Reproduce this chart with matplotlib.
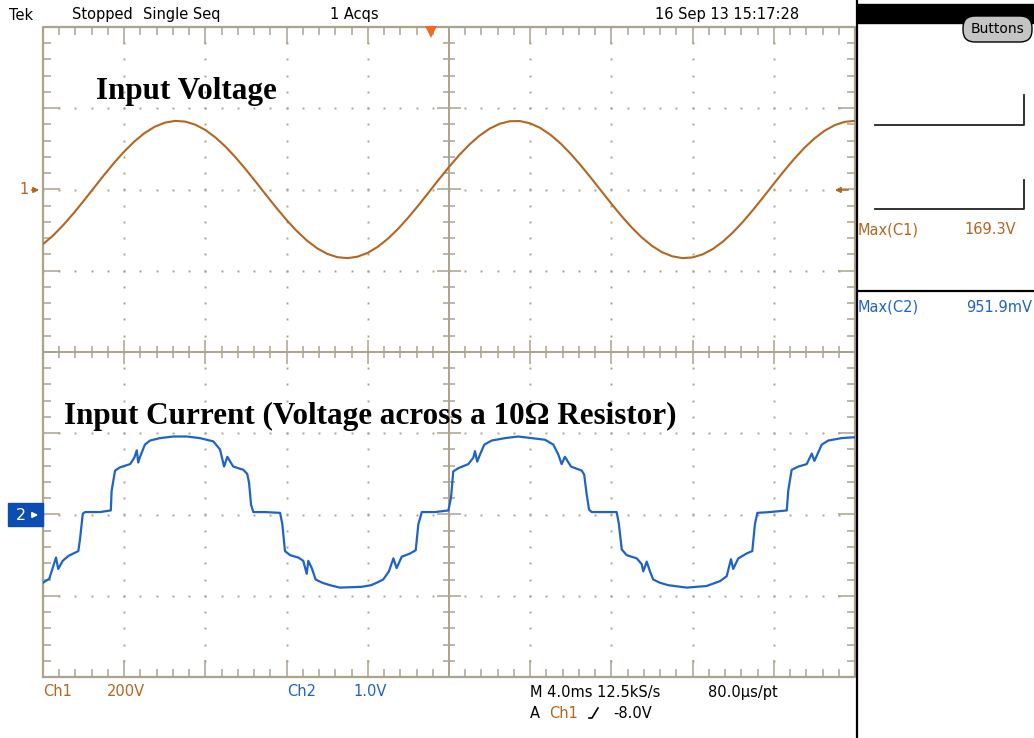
"""Tek scope capture: input voltage and input current."""

import matplotlib
matplotlib.use("Agg")
import matplotlib.pyplot as plt
import matplotlib.transforms as mtransforms
from matplotlib.collections import LineCollection
from matplotlib.patches import Rectangle, FancyBboxPatch
import numpy as np

# ---- data --------------------------------------------------------------------
# Ch1: input voltage (V), one sample every 0.5 ms
v_time_ms = [k / 2 for k in range(-40, 41)]
v_volts = [-134.6, -113.1, -87.5, -58.9, -28.2, 3.5, 35.1, 65.5, 93.5, 118.2,
           138.8, 154.4, 164.5, 168.9, 167.2, 159.6, 146.4, 127.9, 105.0, 78.3,
           48.8, 17.7, -14.1, -45.4, -75.1, -102.2, -125.6, -144.6, -158.4, -166.6,
           -169.0, -165.3, -155.8, -140.8, -120.7, -96.4, -68.7, -38.6, -7.1, 24.7,
           55.6, 84.5, 110.4, 132.4, 149.8, 161.8, 168.1, 168.4, 162.8, 151.4,
           134.6, 113.1, 87.5, 58.9, 28.2, -3.5, -35.1, -65.5, -93.5, -118.2,
           -138.8, -154.4, -164.5, -168.9, -167.2, -159.6, -146.4, -127.9, -105.0, -78.3,
           -48.8, -17.7, 14.1, 45.4, 75.1, 102.2, 125.6, 144.6, 158.4, 166.6,
           169.0]

# Ch2: voltage across the 10 ohm shunt (V)
i_time_ms = [-20.0, -19.69, -19.36, -19.25, -19.03, -18.75, -18.26, -18.18, -18.04, -17.93,
             -17.19, -16.66, -16.62, -16.45, -16.21, -15.71, -15.50, -15.38, -15.31, -15.22,
             -14.98, -14.73, -14.24, -13.58, -12.92, -12.27, -11.61, -11.28, -11.08, -10.92,
             -10.63, -10.13, -9.94, -9.85, -9.75, -9.64, -9.06, -8.32, -8.21, -8.08,
             -7.83, -7.42, -7.18, -7.01, -6.93, -6.76, -6.57, -6.24, -5.86, -5.37,
             -4.30, -3.84, -3.56, -3.24, -2.96, -2.74, -2.58, -2.33, -1.92, -1.64,
             -1.51, -1.34, -0.69, -0.03, 0.10, 0.21, 0.46, 0.95, 1.20, 1.28,
             1.39, 1.53, 1.74, 2.10, 2.76, 3.41, 4.07, 4.73, 5.14, 5.38,
             5.55, 5.71, 6.01, 6.54, 6.66, 6.78, 6.90, 7.03, 8.26, 8.37,
             8.51, 8.75, 9.25, 9.49, 9.57, 9.74, 9.90, 10.06, 10.39, 10.80,
             11.71, 12.69, 13.35, 13.68, 13.89, 14.00, 14.25, 14.66, 14.94, 15.07,
             15.19, 15.81, 16.64, 16.71, 16.88, 17.21, 17.62, 17.87, 18.00, 18.11,
             18.36, 18.68, 19.34, 19.89, 20.0]
i_volts = [-0.84, -0.79, -0.53, -0.67, -0.57, -0.51, -0.45, -0.31, 0.01, 0.03,
           0.03, 0.05, 0.29, 0.54, 0.58, 0.62, 0.70, 0.79, 0.64, 0.71,
           0.86, 0.91, 0.94, 0.96, 0.96, 0.94, 0.90, 0.80, 0.59, 0.71,
           0.59, 0.55, 0.50, 0.39, 0.12, 0.03, 0.03, 0.02, -0.12, -0.45,
           -0.50, -0.53, -0.57, -0.73, -0.57, -0.66, -0.80, -0.84, -0.87, -0.90,
           -0.89, -0.87, -0.84, -0.80, -0.70, -0.54, -0.66, -0.52, -0.48, -0.44,
           -0.12, 0.03, 0.03, 0.05, 0.21, 0.53, 0.57, 0.62, 0.70, 0.78,
           0.65, 0.74, 0.86, 0.91, 0.94, 0.96, 0.94, 0.92, 0.86, 0.74,
           0.62, 0.71, 0.59, 0.54, 0.49, 0.25, 0.06, 0.03, 0.03, -0.12,
           -0.43, -0.50, -0.54, -0.61, -0.70, -0.58, -0.70, -0.80, -0.84, -0.87,
           -0.90, -0.88, -0.82, -0.76, -0.55, -0.67, -0.54, -0.48, -0.45, -0.12,
           0.02, 0.03, 0.05, 0.29, 0.55, 0.59, 0.62, 0.75, 0.66, 0.72,
           0.86, 0.91, 0.94, 0.95, 0.95]

ch1_volts_per_div = 200.0
ch2_volts_per_div = 1.0
ch1_offset_div = 2.0
ch2_offset_div = -2.0
ms_per_div = 4.0
trigger_time_ms = -0.9

# ---- look ---------------------------------------------------------------------
W, H = 1034, 738
GRAT = "#ABA38C"
CH1 = "#B4661F"
CH2 = "#1F63C6"
TRIG = "#F26A1F"
FONT = "DejaVu Sans"
FS = 10.5

fig = plt.figure(figsize=(W / 100, H / 100), dpi=100)
fig.patch.set_facecolor("white")

# graticule axes: x in ms, y in divisions
gl, gr, gt, gb = 43, 855, 27, 677
ax = fig.add_axes([gl / W, 1 - gb / H, (gr - gl) / W, (gb - gt) / H])
ax.set_xlim(-5 * ms_per_div, 5 * ms_per_div)
ax.set_ylim(-4, 4)
ax.set_axis_off()
ax.patch.set_alpha(0)

px_x = ms_per_div / ((gr - gl) / 10)   # ms per pixel
px_y = 1 / ((gb - gt) / 8)             # div per pixel

# dotted division lines
for k in range(-4, 5):
    if k == 0:
        continue
    ys = np.arange(-4, 4.001, 0.2)
    ax.plot(np.full_like(ys, k * ms_per_div), ys, ls="none", marker="s",
            ms=1.4, mew=0, color=GRAT)
for k in range(-3, 4):
    if k == 0:
        continue
    xs = np.arange(-20, 20.001, 0.8)
    ax.plot(xs, np.full_like(xs, k), ls="none", marker="s", ms=1.4, mew=0, color=GRAT)

# border and crosshair ticks
segs = []
for xv in np.arange(-20, 20.001, 0.8):
    major = abs(xv / ms_per_div - round(xv / ms_per_div)) < 1e-6
    L = (17 if major else 8) * px_y
    segs += [[(xv, 4), (xv, 4 - L)], [(xv, -4), (xv, -4 + L)]]
    c = (12 if major else 6) * px_y
    segs.append([(xv, -c), (xv, c)])
for yv in np.arange(-4, 4.001, 0.2):
    major = abs(yv - round(yv)) < 1e-6
    L = (17 if major else 8) * px_x
    segs += [[(-20, yv), (-20 + L, yv)], [(20, yv), (20 - L, yv)]]
    c = (12 if major else 6) * px_x
    segs.append([(-c, yv), (c, yv)])
ax.add_collection(LineCollection(segs, colors=GRAT, linewidths=1.1))
ax.plot([-20, 20, 20, -20, -20], [-4, -4, 4, 4, -4], color=GRAT, lw=1.6, clip_on=False)
ax.axhline(0, color=GRAT, lw=1.4)
ax.axvline(0, color=GRAT, lw=1.4)

# traces
v_div = np.array(v_volts) / ch1_volts_per_div + ch1_offset_div
i_div = np.array(i_volts) / ch2_volts_per_div + ch2_offset_div
ax.plot(v_time_ms, v_div, color=CH1, lw=1.5, zorder=5)
ax.plot(i_time_ms, i_div, color=CH2, lw=1.6, zorder=5)

# trigger position marker
trans = mtransforms.offset_copy(ax.transData, fig=fig, y=-4.5, units="dots")
ax.plot([trigger_time_ms], [4], marker="v", ms=9, color=TRIG, mew=0,
        transform=trans, clip_on=False, zorder=6)

# ---- overlay in pixel coordinates ----------------------------------------------
ov = fig.add_axes([0, 0, 1, 1])
ov.set_xlim(0, W)
ov.set_ylim(H, 0)
ov.set_axis_off()
ov.patch.set_alpha(0)


def txt(x, y, s, color="black", ha="left", **kw):
    ov.text(x, y, s, color=color, ha=ha, va="center", fontsize=kw.pop("fs", FS),
            family=kw.pop("family", FONT), **kw)


# status line
txt(9, 15, "Tek")
txt(72, 15, "Stopped")
txt(143, 15, "Single Seq")
txt(330, 15, "1 Acqs")
txt(655, 15, "16 Sep 13 15:17:28")

# right-hand panel
ov.add_patch(Rectangle((857, 4), W - 857, 19, color="black", zorder=2))
ov.plot([857, 857], [0, H], color="black", lw=1.6)
ov.add_patch(FancyBboxPatch((963, 16), 69, 26, boxstyle="round,pad=0,rounding_size=12",
                            fc="#C4C4C4", ec="black", lw=1.0, zorder=3))
txt(997.5, 29, "Buttons", ha="center", fs=10, zorder=4)
ov.plot([875, 1024, 1024], [125, 125, 95], color="#222222", lw=1.3)
ov.plot([875, 1024, 1024], [209, 209, 180], color="#222222", lw=1.3)
txt(858, 230, "Max(C1)", color=CH1)
txt(1016, 230, "169.3V", color=CH1, ha="right")
ov.plot([858, W], [291, 291], color="black", lw=1.6)
txt(858, 307, "Max(C2)", color=CH2)
txt(1032, 307, "951.9mV", color=CH2, ha="right")

# channel reference markers
txt(24, 190, "1", color=CH1, ha="center")
ov.annotate("", xy=(42, 190), xytext=(29, 190),
            arrowprops=dict(arrowstyle="-|>", color=CH1, lw=1.2, mutation_scale=8))
ov.annotate("", xy=(832, 190), xytext=(851, 190),
            arrowprops=dict(arrowstyle="-|>", color=CH1, lw=1.2, mutation_scale=8))
ov.add_patch(Rectangle((8, 503), 35, 23, color="#0C4DB4"))
txt(21, 515, "2", color="white", ha="center", fs=11.5)
ov.annotate("", xy=(41, 515), xytext=(29, 515),
            arrowprops=dict(arrowstyle="-|>", color="white", lw=1.2, mutation_scale=8))

# annotations on the screen
title_font = ["Liberation Serif", "DejaVu Serif"]
ov.text(96, 99, "Input Voltage", fontsize=22.4, fontweight="bold", family=title_font,
        va="baseline", ha="left", color="black")
ov.text(64, 424, "Input Current (Voltage across a 10\u03a9 Resistor)", fontsize=22.4,
        fontweight="bold", family=title_font, va="baseline", ha="left", color="black")

# bottom readout
txt(43, 692, "Ch1", color=CH1)
txt(107, 692, "200V", color=CH1)
txt(287, 692, "Ch2", color=CH2)
txt(353, 692, "1.0V", color=CH2)
txt(530, 693, "M 4.0ms 12.5kS/s")
txt(708, 693, "80.0\u00b5s/pt")
txt(530, 713, "A")
txt(549, 713, "Ch1", color=CH1)
ov.plot([589, 592, 598], [718, 718, 708], color="black", lw=1.2)
txt(613, 713, "-8.0V")

fig.savefig("out.png", dpi=100)
